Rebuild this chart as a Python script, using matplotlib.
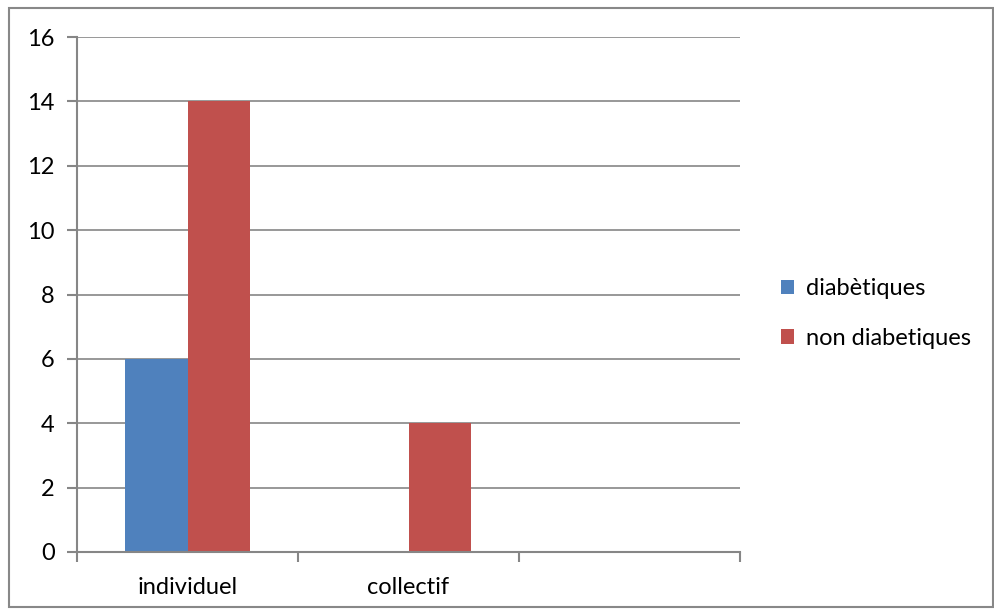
import matplotlib
matplotlib.use("Agg")
import matplotlib.pyplot as plt
import numpy as np
from matplotlib.patches import Rectangle

categories = ["individuel", "collectif", ""]
diabetiques = [6, 0, 0]
non_diabetiques = [14, 4, 0]
series_names = ["diabètiques", "non diabetiques"]
y_ticks = [0, 2, 4, 6, 8, 10, 12, 14, 16]

plt.rcParams["font.family"] = ["Lato", "DejaVu Sans"]

fig = plt.figure(figsize=(9.94, 6.14), dpi=100)
fig.patch.set_facecolor("white")
fig.patches.append(Rectangle((8.5 / 994, 1 - 606.5 / 614), 984 / 994, 599 / 614,
                             transform=fig.transFigure, fill=False,
                             edgecolor="#888888", linewidth=1.5))

ax = fig.add_axes([77 / 994, 1 - 552 / 614, 663 / 994, 515 / 614])
x = np.arange(len(categories))
w = 0.285
grid_c = "#868686"
ax.bar(x - w / 2, diabetiques, width=w, color="#4F81BD", label=series_names[0], zorder=3)
ax.bar(x + w / 2, non_diabetiques, width=w, color="#C0504D", label=series_names[1], zorder=3)

ax.set_xlim(-0.5, len(categories) - 0.5)
ax.set_ylim(0, 16)
ax.set_yticks(y_ticks)
ax.set_yticklabels([str(v) for v in y_ticks], fontsize=17)
ax.set_xticks(x)
ax.set_xticklabels(categories, fontsize=17)
ax.set_xticks(np.arange(-0.5, len(categories)), minor=True)
ax.tick_params(axis="x", which="major", length=0, pad=18)
ax.tick_params(axis="x", which="minor", length=7, width=1.5, color=grid_c, direction="out")
ax.tick_params(axis="y", length=7, width=1.5, color=grid_c, pad=9)
ax.yaxis.grid(True, color=grid_c, linewidth=1.2, zorder=0)
for s in ["top", "right"]:
    ax.spines[s].set_visible(False)
for s in ["left", "bottom"]:
    ax.spines[s].set_color(grid_c)
    ax.spines[s].set_linewidth(1.5)
    ax.spines[s].set_zorder(4)

fig.legend(loc="upper left", bbox_to_anchor=(772 / 994, 1 - 269 / 614),
           frameon=False, fontsize=17, handlelength=0.55, handleheight=0.55,
           handletextpad=0.5, labelspacing=1.2, borderaxespad=0)

fig.savefig("out.png", dpi=100)
